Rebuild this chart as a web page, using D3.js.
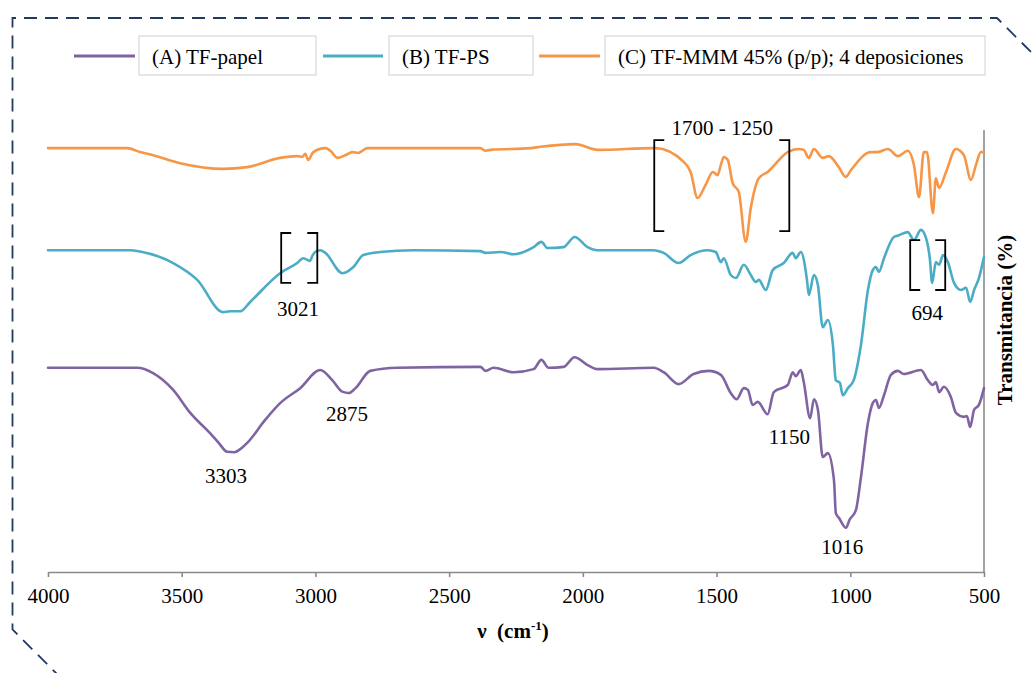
<!DOCTYPE html>
<html>
<head>
<meta charset="utf-8">
<script src="https://cdn.jsdelivr.net/npm/d3@7"></script>
<style>
  html, body { margin: 0; padding: 0; background: #fff; }
  svg { display: block; }
  text { font-family: "Liberation Serif", "Times New Roman", serif; fill: #000; }
</style>
</head>
<body>
<svg id="chart" width="1034" height="673"></svg>
<script>
// FTIR spectra: wavenumber (cm-1) and offset transmittance (a.u.)
const papelWn = [4000,3667,3607,3532,3468,3394,3364,3330,3303,3281,3255,3188,3132,3057,2982,2937,2900,2875,2850,2795,2694,2383,2364,2334,2259,2184,2155,2128,2072,2031,1982,1945,1735,1698,1642,1586,1529,1484,1447,1425,1398,1383,1365,1346,1309,1286,1234,1215,1204,1185,1174,1150,1136,1121,1103,1084,1061,1054,1042,1016,1003,979,960,934,916,904,893,874,848,822,800,736,710,691,680,668,650,624,605,575,564,552,537,519,500];
const papelT  = [46.2,46.2,45.0,41.2,36.0,31.4,29.4,27.2,27.1,27.8,29.2,34.4,38.2,41.6,45.7,43.4,40.8,40.5,41.6,45.5,46.2,46.4,45.5,46.2,45.2,45.9,48.0,46.2,46.4,48.6,46.8,45.9,46.2,45.2,42.5,44.8,45.5,44.6,40.5,39.1,41.6,41.2,37.8,38.5,35.7,40.7,42.3,45.2,44.3,45.7,43.0,34.8,39.1,36.7,26.0,26.9,20.8,13.3,12.2,10.0,11.8,14.0,21.5,33.7,38.2,38.9,37.1,40.0,44.6,45.5,44.8,45.7,43.4,42.3,43.0,40.7,41.9,39.6,36.0,35.1,35.3,32.8,36.7,37.8,41.6];

const psWn = [4000,3693,3656,3532,3442,3345,3319,3281,3244,3132,3068,3045,3021,3010,3001,2982,2963,2899,2858,2821,2757,2634,2383,2364,2308,2259,2184,2155,2132,2072,2031,1982,1945,1735,1698,1642,1597,1533,1503,1484,1473,1447,1428,1398,1372,1353,1342,1316,1290,1249,1215,1204,1185,1162,1155,1136,1121,1103,1084,1065,1054,1039,1028,1009,987,960,934,916,904,893,874,837,818,785,762,736,717,702,694,680,668,653,635,612,586,567,552,537,519,500];
const psT  = [72.8,72.8,72.5,69.9,66.1,58.8,59.0,59.0,61.1,67.6,69.9,71.0,70.4,71.7,72.4,72.8,72.2,67.6,69.0,71.7,72.4,72.8,72.6,72.2,72.4,71.9,73.5,74.7,73.3,73.5,75.8,73.5,72.8,72.8,72.2,69.9,71.7,72.8,72.4,70.1,71.0,67.2,66.5,69.5,67.2,65.6,66.1,63.8,68.3,69.9,72.2,71.0,72.4,66.1,62.7,67.2,64.9,55.4,57.0,51.4,43.4,42.8,40.0,41.6,43.4,51.4,63.8,68.3,69.0,67.9,71.0,75.8,76.2,76.9,75.1,77.4,75.6,70.6,65.4,70.1,69.5,71.7,70.1,65.4,63.8,64.3,61.1,63.8,66.5,71.3];

const mmmWn = [4000,3704,3656,3607,3506,3345,3255,3132,3068,3049,3038,3027,3008,2963,2944,2918,2888,2862,2840,2806,2383,2364,2345,2196,2158,2027,1945,1735,1728,1623,1597,1571,1541,1514,1496,1484,1473,1458,1440,1417,1391,1372,1342,1309,1234,1193,1174,1155,1136,1103,1080,1043,1017,998,923,897,859,822,785,762,743,725,713,691,680,668,642,605,575,549,530,512,500];
const mmmT  = [95.9,95.9,95.0,94.3,92.5,91.2,91.6,93.7,94.1,93.9,94.6,93.2,95.0,95.9,95.3,93.7,94.3,95.0,94.8,95.9,95.9,95.3,95.5,95.9,96.2,96.8,95.5,95.9,95.9,92.8,90.5,84.6,87.6,90.5,89.8,92.1,93.9,93.2,88.0,86.0,74.7,82.4,89.1,90.5,95.0,95.7,95.5,93.7,95.7,93.7,94.1,91.6,89.4,90.9,95.0,95.0,95.7,94.1,95.3,92.1,84.8,95.0,95.0,81.2,89.1,86.9,90.5,95.7,94.3,88.7,92.1,95.0,95.0];

const seriesNames  = ["(A) TF-papel", "(B) TF-PS", "(C) TF-MMM 45% (p/p); 4 deposiciones"];
const seriesColors = ["#8064a2", "#4bacc6", "#f79646"];
const xTicks = [4000, 3500, 3000, 2500, 2000, 1500, 1000, 500];

// Peak labels (wavenumber anchor, transmittance baseline)
const peakLabels = [
  { text: "3303", wn: 3334, t: 20.1 },
  { text: "2875", wn: 2882, t: 34.2 },
  { text: "3021", wn: 3065, t: 57.9 },
  { text: "1150", wn: 1228, t: 29.0 },
  { text: "1016", wn: 1030, t: 4.1 },
  { text: "694",  wn: 712,  t: 57.0 },
  { text: "1700 - 1250", wn: 1479, t: 98.9 }
];
// Highlighted regions drawn as square brackets
const brackets = [
  { wn0: 3128, wn1: 2993, t0: 76.7, t1: 65.4 },
  { wn0: 1733, wn1: 1228, t0: 97.7, t1: 77.1 },
  { wn0: 776,  wn1: 645,  t0: 75.1, t1: 63.8 }
];

const SERIF = "'Liberation Serif', 'Times New Roman', serif";
const svg = d3.select("#chart");
const plot = { left: 48, right: 984, top: 130, bottom: 572 };

// Decorative dashed frame
svg.append("path")
  .attr("d", "M62,679 L12.5,629.5 L12.5,18 L997,18 L1042,63")
  .attr("fill", "none")
  .attr("stroke", "#203a60")
  .attr("stroke-width", 1.8)
  .attr("stroke-dasharray", "13 8");

const x = d3.scaleLinear().domain([4000, 500]).range([plot.left, plot.right]);
const y = d3.scaleLinear().domain([0, 100]).range([plot.bottom, plot.top]);

// Bottom axis
const xAxis = d3.axisBottom(x).tickValues(xTicks).tickFormat(d3.format("d"))
  .tickSizeInner(5).tickSizeOuter(0).tickPadding(11);
const gx = svg.append("g").attr("transform", `translate(0,${plot.bottom})`).call(xAxis);
gx.attr("font-family", null).attr("font-size", null);
gx.select(".domain").attr("stroke", "#8a8a8a").attr("stroke-width", 1.6);
gx.selectAll(".tick line").attr("stroke", "#8a8a8a").attr("stroke-width", 1.6);
gx.selectAll(".tick text")
  .style("font-family", SERIF)
  .style("font-size", "21px").attr("fill", "#000");

// Right vertical axis line
svg.append("line")
  .attr("x1", x(500)).attr("x2", x(500))
  .attr("y1", y(100)).attr("y2", y(0))
  .attr("stroke", "#8a8a8a").attr("stroke-width", 1.6);

// Spectra
const spectra = [
  { wn: papelWn, t: papelT },
  { wn: psWn, t: psT },
  { wn: mmmWn, t: mmmT }
];
const line = d3.line()
  .x(d => x(d[0]))
  .y(d => y(d[1]))
  .curve(d3.curveMonotoneX);

spectra.forEach((s, i) => {
  const pts = s.wn.map((w, k) => [w, s.t[k]]);
  svg.append("path")
    .datum(pts)
    .attr("d", line)
    .attr("fill", "none")
    .attr("stroke", seriesColors[i])
    .attr("stroke-width", 2.6)
    .attr("stroke-linejoin", "round")
    .attr("stroke-linecap", "round");
});

// Brackets
const serif = 10;
brackets.forEach(b => {
  const xa = x(b.wn0), xb = x(b.wn1), ya = y(b.t0), yb = y(b.t1);
  svg.append("path")
    .attr("d", `M${xa + serif},${ya} L${xa},${ya} L${xa},${yb} L${xa + serif},${yb}`)
    .attr("fill", "none").attr("stroke", "#000").attr("stroke-width", 1.8);
  svg.append("path")
    .attr("d", `M${xb - serif},${ya} L${xb},${ya} L${xb},${yb} L${xb - serif},${yb}`)
    .attr("fill", "none").attr("stroke", "#000").attr("stroke-width", 1.8);
});

// Peak labels
svg.append("g").selectAll("text")
  .data(peakLabels)
  .join("text")
  .attr("x", d => x(d.wn))
  .attr("y", d => y(d.t))
  .attr("text-anchor", "middle")
  .style("font-size", "21px")
  .text(d => d.text);

// Axis titles
const xt = svg.append("text")
  .attr("x", 513).attr("y", 638)
  .attr("text-anchor", "middle")
  .style("font-size", "21px")
  .style("font-weight", "bold");
xt.append("tspan").text("ν\u00a0\u00a0(cm");
xt.append("tspan").style("font-size", "13px").attr("dy", -8).text("-1");
xt.append("tspan").attr("dy", 8).text(")");

svg.append("text")
  .attr("transform", "translate(1012,320) rotate(-90)")
  .attr("text-anchor", "middle")
  .style("font-size", "21px")
  .style("font-weight", "bold")
  .text("Transmitancia (%)");

// Legend
const legendLayout = [
  { lx0: 74,  lx1: 135, bx: 139, bw: 177 },
  { lx0: 323, lx1: 383, bx: 389, bw: 144 },
  { lx0: 539, lx1: 600, bx: 605, bw: 380 }
];
const legY = 56;
legendLayout.forEach((L, i) => {
  svg.append("line")
    .attr("x1", L.lx0).attr("x2", L.lx1)
    .attr("y1", legY).attr("y2", legY)
    .attr("stroke", seriesColors[i]).attr("stroke-width", 3);
  svg.append("rect")
    .attr("x", L.bx).attr("y", 36).attr("width", L.bw).attr("height", 39)
    .attr("fill", "#fff").attr("stroke", "#cfcfcf").attr("stroke-width", 1);
  svg.append("text")
    .attr("x", L.bx + 13).attr("y", 64)
    .style("font-size", "21px")
    .text(seriesNames[i]);
});
</script>
</body>
</html>
